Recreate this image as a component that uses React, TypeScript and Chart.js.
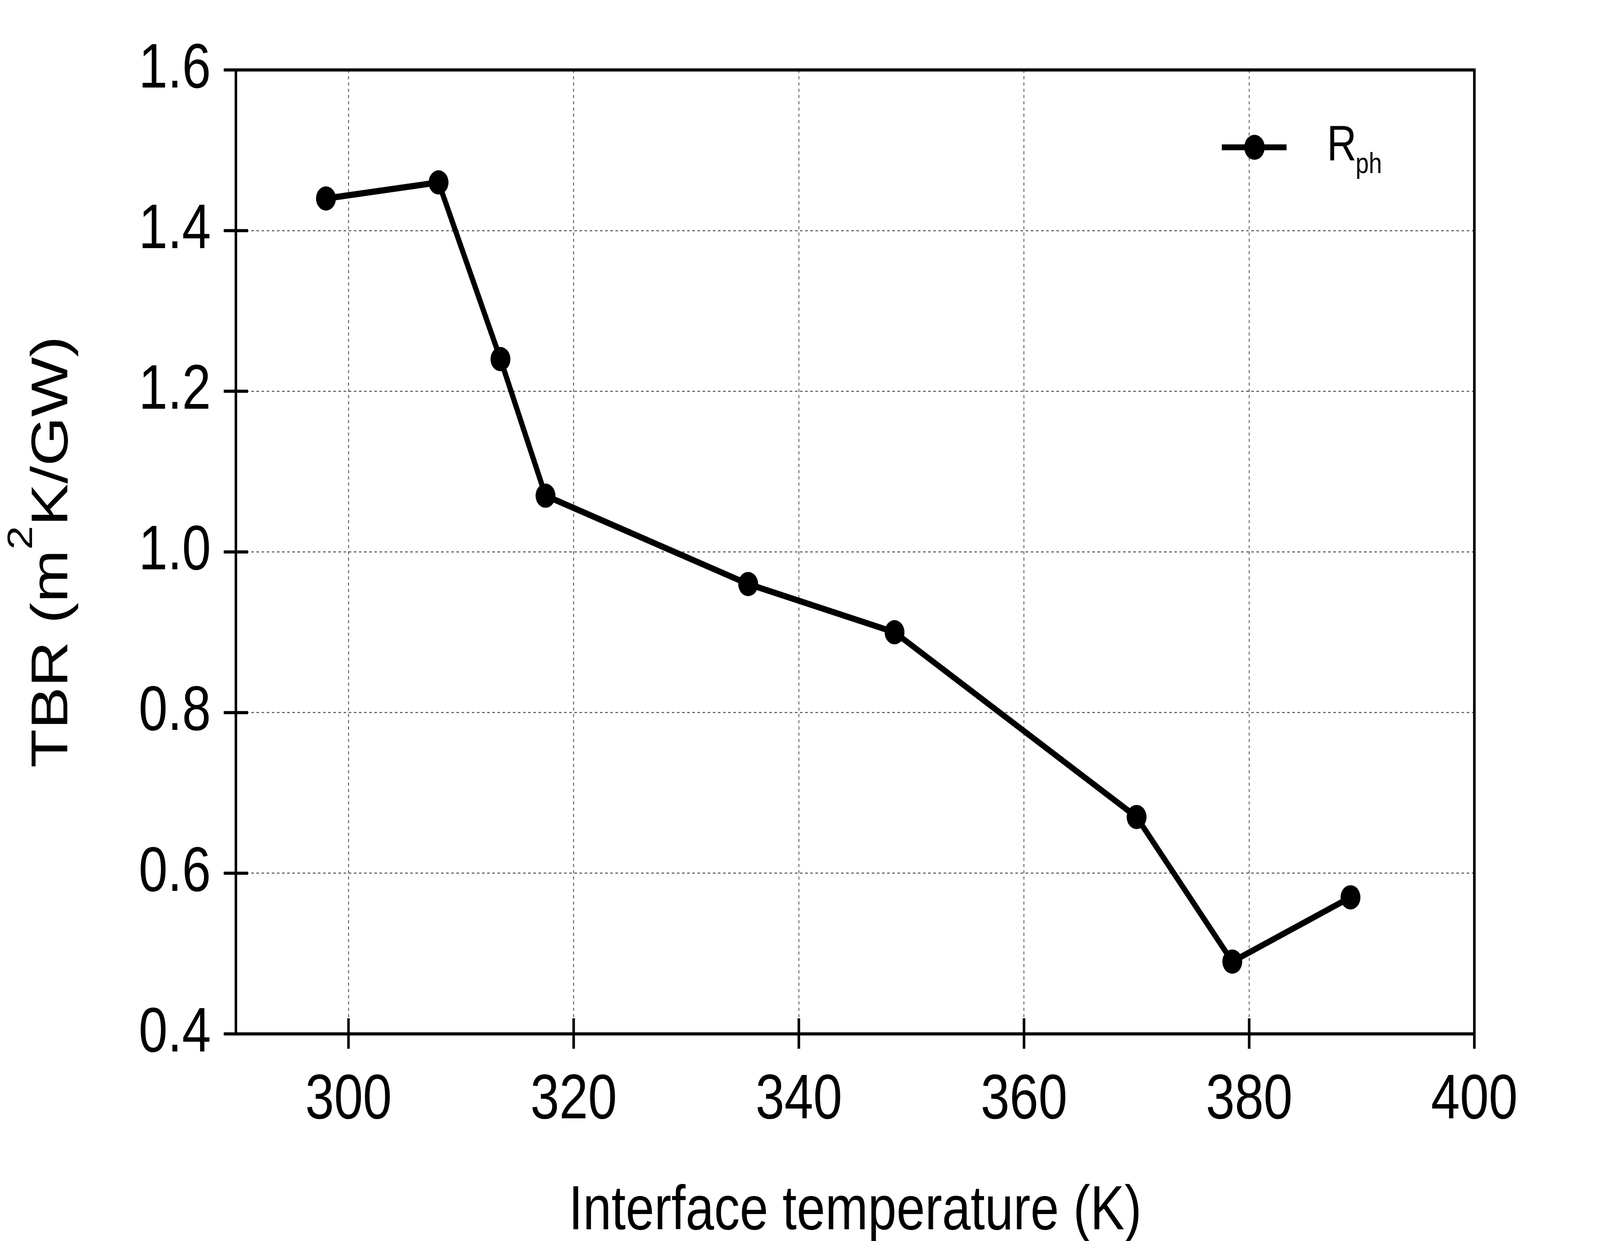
import { useEffect, useRef } from "react";
import { Chart, registerables } from "chart.js";

Chart.register(...registerables);

// interface temperature (K) and phonon TBR (m^2K/GW)
const temperature = [298.0, 308.0, 313.5, 317.5, 335.5, 348.5, 370.0, 378.5, 389.0];
const rph = [1.44, 1.46, 1.24, 1.07, 0.96, 0.9, 0.67, 0.49, 0.57];

const xTicks = [300, 320, 340, 360, 380, 400];
const yTicks = [0.4, 0.6, 0.8, 1.0, 1.2, 1.4, 1.6];

const seriesLabel = "R";
const seriesSub = "ph";
const xTitle = "Interface temperature (K)";
const yTitleParts = ["TBR (m", "2", "K/GW)"];

const FONT = "'Liberation Sans', Arial, Helvetica, sans-serif";
const W = 4992;
const H = 3176;

const decorPlugin = {
  id: "decor",
  afterDraw(chart: any) {
    const { ctx, chartArea: a, scales } = chart;
    const xs = scales.x;
    const ys = scales.y;
    ctx.save();

    // frame + ticks (in and out)
    ctx.strokeStyle = "#000";
    ctx.lineWidth = 8;
    ctx.lineCap = "butt";
    ctx.strokeRect(a.left, a.top, a.right - a.left, a.bottom - a.top);
    ctx.beginPath();
    for (const v of xTicks) {
      const px = xs.getPixelForValue(v);
      ctx.moveTo(px, a.bottom - 40);
      ctx.lineTo(px, a.bottom + 38);
    }
    for (const v of yTicks) {
      const py = ys.getPixelForValue(v);
      ctx.moveTo(a.left - 38, py);
      ctx.lineTo(a.left + 38, py);
    }
    ctx.stroke();

    // x title
    ctx.fillStyle = "#000";
    ctx.font = `160px ${FONT}`;
    ctx.textAlign = "center";
    ctx.textBaseline = "alphabetic";
    ctx.fillText(xTitle, (a.left + a.right) / 2, 3146);

    // y title with superscript
    const big = `162px ${FONT}`;
    const small = `110px ${FONT}`;
    ctx.font = big;
    const w0 = ctx.measureText(yTitleParts[0]).width;
    const w2 = ctx.measureText(yTitleParts[2]).width;
    ctx.font = small;
    const w1 = ctx.measureText(yTitleParts[1]).width;
    const total = w0 + w1 + w2;
    ctx.save();
    ctx.translate(210, (a.top + a.bottom) / 2);
    ctx.rotate(-Math.PI / 2);
    ctx.textAlign = "left";
    let cx = -total / 2;
    ctx.font = big;
    ctx.fillText(yTitleParts[0], cx, 0);
    cx += w0;
    ctx.font = small;
    ctx.fillText(yTitleParts[1], cx, -110);
    cx += w1;
    ctx.font = big;
    ctx.fillText(yTitleParts[2], cx, 0);
    ctx.restore();

    // legend
    const ly = 377;
    ctx.lineWidth = 15;
    ctx.beginPath();
    ctx.moveTo(3812, ly);
    ctx.lineTo(4014, ly);
    ctx.stroke();
    ctx.beginPath();
    ctx.arc(3914, ly, 32, 0, Math.PI * 2);
    ctx.fill();
    ctx.textAlign = "left";
    ctx.font = `128px ${FONT}`;
    ctx.fillText(seriesLabel, 4140, 411);
    const rw = ctx.measureText(seriesLabel).width;
    ctx.font = `74px ${FONT}`;
    ctx.fillText(seriesSub, 4140 + rw - 3, 443);

    ctx.restore();
  },
};

function TbrChart() {
  const canvasRef = useRef<HTMLCanvasElement>(null);
  const chartRef = useRef<Chart | null>(null);

  useEffect(() => {
    if (!canvasRef.current) return;
    chartRef.current?.destroy();

    chartRef.current = new Chart(canvasRef.current, {
      type: "line",
      data: {
        datasets: [
          {
            label: seriesLabel + seriesSub,
            data: temperature.map((t, i) => ({ x: t, y: rph[i] })),
            borderColor: "#000",
            backgroundColor: "#000",
            borderWidth: 16,
            pointRadius: 31,
            pointBorderWidth: 0,
            pointBackgroundColor: "#000",
            tension: 0,
          },
        ],
      },
      options: {
        animation: false,
        responsive: false,
        devicePixelRatio: 1,
        layout: { padding: { top: 179, right: 392, bottom: 0, left: 0 } },
        plugins: { legend: { display: false }, tooltip: { enabled: false } },
        scales: {
          x: {
            type: "linear",
            min: 290,
            max: 400,
            afterBuildTicks: (s: any) => {
              s.ticks = xTicks.map((v) => ({ value: v }));
            },
            afterFit: (s: any) => {
              s.height = 530;
            },
            grid: { color: "#666", lineWidth: 3, drawTicks: false },
            border: { display: false, dash: [8, 8] },
            ticks: {
              color: "#000",
              padding: 74,
              maxRotation: 0,
              font: { family: FONT, size: 162 },
            },
          },
          y: {
            type: "linear",
            min: 0.4,
            max: 1.6,
            afterBuildTicks: (s: any) => {
              s.ticks = yTicks.map((v) => ({ value: v }));
            },
            afterFit: (s: any) => {
              s.width = 736;
            },
            grid: { color: "#666", lineWidth: 3, drawTicks: false },
            border: { display: false, dash: [8, 8] },
            ticks: {
              color: "#000",
              padding: 78,
              font: { family: FONT, size: 162 },
              callback: (v: any) => Number(v).toFixed(1),
            },
          },
        },
      },
      plugins: [decorPlugin],
    });

    return () => {
      chartRef.current?.destroy();
    };
  }, []);

  return (
    <canvas
      ref={canvasRef}
      width={W}
      height={H}
      style={{
        position: "fixed",
        left: 0,
        top: 0,
        width: "100vw",
        height: "100vh",
        display: "block",
        background: "#fff",
      }}
    />
  );
}

export default function App() {
  return <TbrChart />;
}
